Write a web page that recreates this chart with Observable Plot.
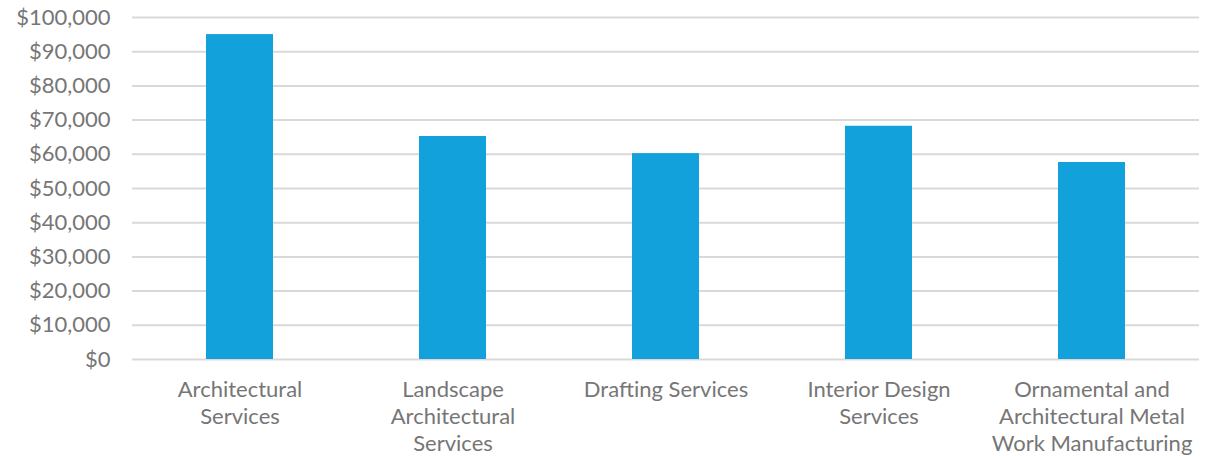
<!DOCTYPE html>
<html>
<head>
<meta charset="utf-8">
<script src="https://cdn.jsdelivr.net/npm/d3@7"></script>
<script src="https://cdn.jsdelivr.net/npm/@observablehq/plot@0.6"></script>
<style>
  html, body { margin: 0; padding: 0; background: #fff; }
  #chart svg { display: block; }
</style>
</head>
<body>
<div id="chart"></div>
<script>
const categories = [
  "Architectural Services",
  "Landscape Architectural Services",
  "Drafting Services",
  "Interior Design Services",
  "Ornamental and Architectural Metal Work Manufacturing"
];
const tickLabels = [
  "Architectural\nServices",
  "Landscape\nArchitectural\nServices",
  "Drafting Services",
  "Interior Design\nServices",
  "Ornamental and\nArchitectural Metal\nWork Manufacturing"
];
const values = [95000, 65200, 60200, 68200, 57600];
const yTicks = [0, 10000, 20000, 30000, 40000, 50000, 60000, 70000, 80000, 90000, 100000];

const data = categories.map((c, i) => ({category: c, value: values[i]}));
const labelOf = new Map(categories.map((c, i) => [c, tickLabels[i]]));

const chart = Plot.plot({
  width: 1209,
  height: 456,
  marginLeft: 132,
  marginRight: 10,
  marginTop: 17,
  marginBottom: 97,
  style: {fontFamily: "Lato, sans-serif", fontSize: "22px", color: "#767676", background: "#fff"},
  x: {domain: categories, paddingInner: 0.686, paddingOuter: 0.343, label: null},
  y: {domain: [0, 100000], label: null},
  marks: [
    Plot.gridY(yTicks, {stroke: "#d9d9d9", strokeOpacity: 1, strokeWidth: 2}),
    Plot.barY(data, {x: "category", y: "value", fill: "#13a1db"}),
    Plot.axisY(yTicks, {tickSize: 0, tickPadding: 22, fontSize: 22, fill: "#767676",
      tickFormat: d => "$" + d3.format(",")(d), label: null}),
    Plot.axisX({tickSize: 0, tickPadding: 18, fontSize: 22, fill: "#767676", lineHeight: 1.23,
      tickFormat: d => labelOf.get(d), label: null})
  ]
});
document.getElementById("chart").appendChild(chart);
</script>
</body>
</html>
